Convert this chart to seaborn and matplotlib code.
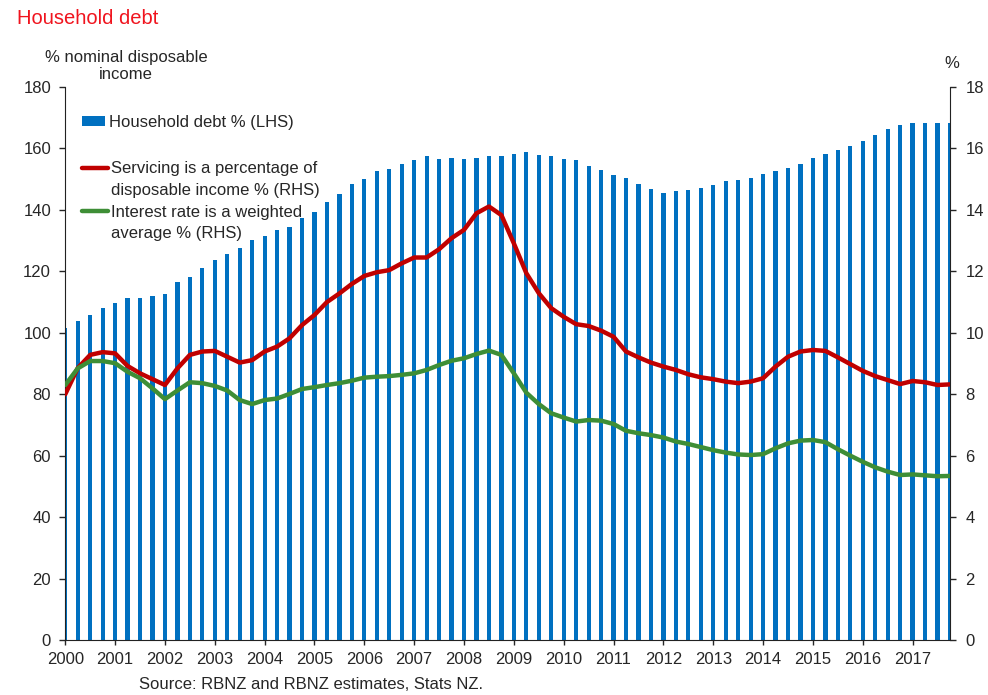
import numpy as np
import pandas as pd
import matplotlib
matplotlib.use("Agg")
import matplotlib.pyplot as plt
import seaborn as sns
from matplotlib.patches import Patch
from matplotlib.lines import Line2D

# ---------------- data ----------------
years = list(range(2000, 2018))
quarter_pos = [y + q / 4 for y in years for q in range(4)]

debt_lhs = [101.5, 103.9, 105.7, 108.1, 109.8, 111.2, 111.2, 112.1, 112.6, 116.4,
            118.1, 121.2, 123.7, 125.8, 127.5, 130.1, 131.4, 133.5, 134.5, 137.2,
            139.2, 142.5, 145.1, 148.3, 150.2, 152.7, 153.2, 154.8, 156.2, 157.4,
            156.6, 156.8, 156.6, 157.0, 157.4, 157.6, 158.3, 158.7, 158.0, 157.4,
            156.6, 156.1, 154.4, 152.9, 151.2, 150.3, 148.3, 146.7, 145.5, 146.2,
            146.4, 147.2, 148.2, 149.3, 149.7, 150.5, 151.6, 152.7, 153.5, 154.8,
            156.8, 158.1, 159.4, 160.9, 162.4, 164.5, 166.2, 167.5, 168.2, 168.4,
            168.2, 168.3]

servicing_rhs = [8.00, 8.85, 9.28, 9.37, 9.33, 8.92, 8.68, 8.49, 8.30, 8.84,
                 9.28, 9.39, 9.41, 9.22, 9.03, 9.11, 9.39, 9.55, 9.82, 10.25,
                 10.58, 11.00, 11.28, 11.59, 11.85, 11.97, 12.04, 12.26, 12.45, 12.45,
                 12.72, 13.08, 13.35, 13.89, 14.11, 13.83, 12.91, 11.94, 11.29, 10.80,
                 10.52, 10.28, 10.22, 10.07, 9.87, 9.39, 9.20, 9.03, 8.90, 8.79,
                 8.65, 8.55, 8.49, 8.41, 8.36, 8.41, 8.52, 8.90, 9.22, 9.39,
                 9.44, 9.41, 9.20, 8.98, 8.76, 8.59, 8.46, 8.33, 8.43, 8.39,
                 8.30, 8.32]

interest_rhs = [8.30, 8.84, 9.08, 9.08, 9.01, 8.73, 8.52, 8.19, 7.84, 8.12,
                8.39, 8.36, 8.27, 8.12, 7.81, 7.68, 7.81, 7.86, 8.01, 8.17,
                8.23, 8.30, 8.36, 8.44, 8.54, 8.57, 8.59, 8.63, 8.68, 8.79,
                8.95, 9.09, 9.17, 9.31, 9.42, 9.28, 8.68, 8.05, 7.68, 7.38,
                7.24, 7.11, 7.16, 7.14, 7.03, 6.81, 6.73, 6.67, 6.59, 6.46,
                6.38, 6.28, 6.18, 6.10, 6.04, 6.02, 6.05, 6.24, 6.40, 6.49,
                6.51, 6.44, 6.21, 6.00, 5.80, 5.62, 5.48, 5.37, 5.39, 5.36,
                5.33, 5.34]

left_ticks = list(range(0, 181, 20))
right_ticks = list(range(0, 19, 2))
year_labels = [str(y) for y in years]

label_debt = "Household debt % (LHS)"
label_serv = ["Servicing is a percentage of", "disposable income % (RHS)"]
label_int = ["Interest rate is a weighted", "average % (RHS)"]

BLUE = "#0070C0"
RED = "#C00000"
GREEN = "#3E8E36"
TITLE_RED = "#F0141E"

df = pd.DataFrame({"quarter": quarter_pos, "debt": debt_lhs,
                   "servicing": servicing_rhs, "interest": interest_rhs})

# ---------------- style ----------------
sns.set_style("ticks")
plt.rcParams["font.family"] = ["Liberation Sans", "DejaVu Sans"]
plt.rcParams["axes.edgecolor"] = "#222222"

fig = plt.figure(figsize=(9.88, 6.95), dpi=100)
ax = fig.add_axes([0.06579, 0.07914, 0.89575, 0.79568])

sns.barplot(data=df, x="quarter", y="debt", native_scale=True, color=BLUE,
            saturation=1, width=0.34, linewidth=0, errorbar=None, ax=ax)

ax2 = ax.twinx()
sns.lineplot(data=df, x="quarter", y="servicing", color=RED, lw=3.2,
             legend=False, ax=ax2, solid_joinstyle="round")
sns.lineplot(data=df, x="quarter", y="interest", color=GREEN, lw=3.2,
             legend=False, ax=ax2, solid_joinstyle="round")

for a in (ax, ax2):
    a.set_xlabel("")
    a.set_ylabel("")
    a.set_xlim(1999.995, 2017.75)
    a.spines["top"].set_visible(False)

ax.set_ylim(0, 180)
ax2.set_ylim(0, 18)
ax.set_yticks(left_ticks)
ax2.set_yticks(right_ticks)
ax.set_xticks(years)
ax.set_xticklabels(year_labels)

ax.spines["right"].set_visible(False)
ax2.spines["left"].set_visible(False)
ax2.spines["bottom"].set_visible(False)

ax.tick_params(axis="y", labelsize=12, length=4, width=1, pad=6, direction="out")
ax2.tick_params(axis="y", labelsize=12, length=4, width=1, pad=7, direction="out")
ax.tick_params(axis="x", labelsize=12, length=3.5, width=1, pad=5, direction="out")

# ---------------- legends ----------------
leg1 = ax2.legend(handles=[Patch(facecolor=BLUE, edgecolor="none")],
                  labels=[label_debt], loc="center left",
                  bbox_to_anchor=(0.0192, 0.9367), frameon=False, fontsize=12,
                  borderpad=0, borderaxespad=0, handlelength=1.4,
                  handleheight=0.55, handletextpad=0.2)
ax2.add_artist(leg1)

blank = Line2D([], [], color="none")
h2 = [Line2D([], [], color=RED, lw=3.2), blank,
      Line2D([], [], color=GREEN, lw=3.2), blank]
l2 = [label_serv[0], label_serv[1], label_int[0], label_int[1]]
ax2.legend(handles=h2, labels=l2, loc="center left",
           bbox_to_anchor=(0.0192, 0.7930), frameon=False, fontsize=12,
           borderpad=0, borderaxespad=0, handlelength=1.55,
           handletextpad=0.2, labelspacing=0.4)

# ---------------- texts ----------------
fig.text(0.017, 0.974, "Household debt", color=TITLE_RED, fontsize=14.5,
         ha="left", va="center")
fig.text(0.1275, 0.905, "% nominal disposable\nincome", fontsize=12,
         ha="center", va="center", multialignment="center", linespacing=1.15)
fig.text(0.963, 0.908, "%", fontsize=12, ha="center", va="center")
fig.text(0.315, 0.0158, "Source: RBNZ and RBNZ estimates, Stats NZ.",
         fontsize=12, ha="center", va="center")

fig.savefig("out.png", dpi=100)
